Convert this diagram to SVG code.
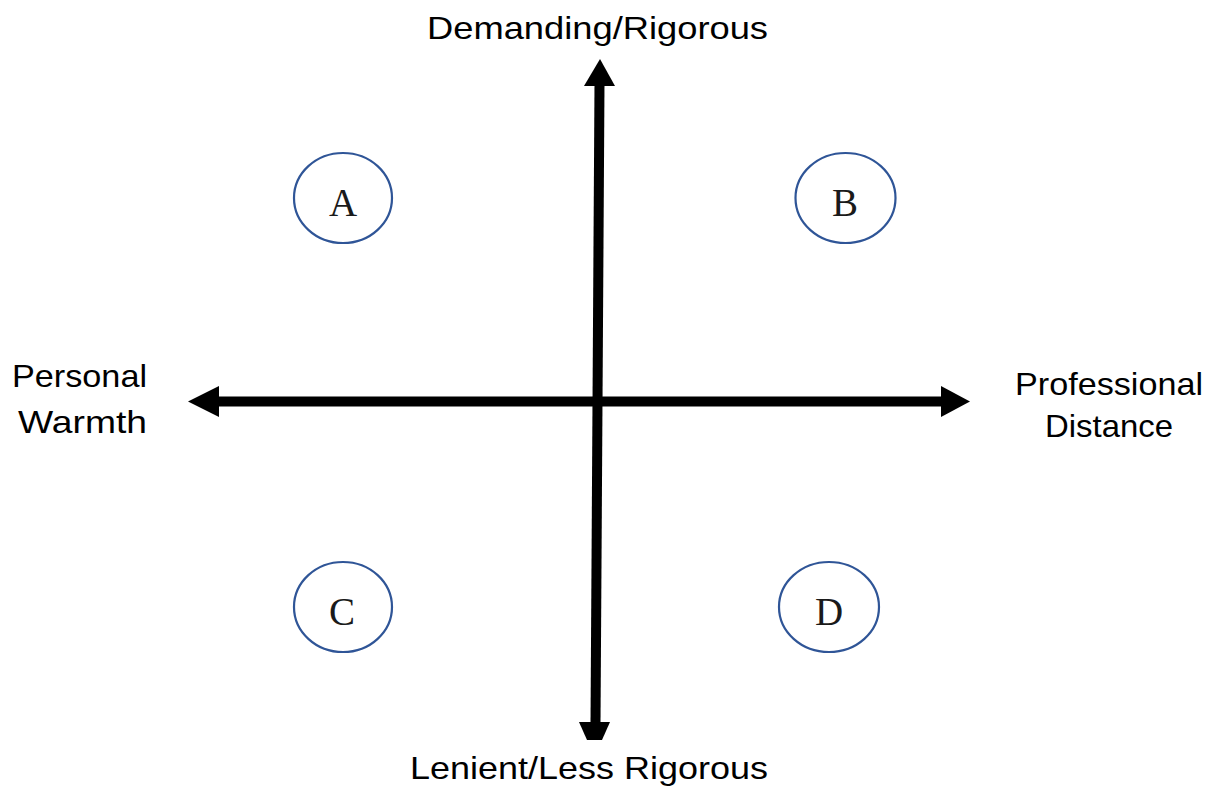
<svg xmlns="http://www.w3.org/2000/svg" width="1217" height="792" viewBox="0 0 1217 792">
  <style>
    .lbl { font-family: "Liberation Sans", Arial, sans-serif; font-size: 32px; fill: #000; }
    .node ellipse { fill: #fff; stroke: #2F5597; stroke-width: 2.2; }
    .node text { font-family: "Liberation Serif", "Times New Roman", serif; font-size: 39px; fill: #1a1a1a; text-anchor: middle; }
    .shaft { stroke: #000; stroke-width: 10; fill: none; }
    .head { fill: #000; }
  </style>
  <rect width="1217" height="792" fill="#fff"/>
  <g id="connectors">
    <line class="shaft" x1="217" y1="401.5" x2="943" y2="401.5"/>
    <polygon class="head" points="188,401.5 219,386 219,417"/>
    <polygon class="head" points="970,401.5 941,386 941,417"/>
    <line class="shaft" x1="599.5" y1="83" x2="595.5" y2="724"/>
    <polygon class="head" points="600,59 584,86 615,86"/>
    <polygon class="head" points="579,722 610,722 602,740 587,740"/>
  </g>
  <g id="labels">
    <text class="lbl" x="427" y="39" textLength="341" lengthAdjust="spacingAndGlyphs">Demanding/Rigorous</text>
    <text class="lbl" x="410" y="779" textLength="358" lengthAdjust="spacingAndGlyphs">Lenient/Less Rigorous</text>
    <text class="lbl" x="12" y="387" textLength="135" lengthAdjust="spacingAndGlyphs">Personal</text>
    <text class="lbl" x="18" y="433" textLength="129" lengthAdjust="spacingAndGlyphs">Warmth</text>
    <text class="lbl" x="1015" y="395" textLength="188" lengthAdjust="spacingAndGlyphs">Professional</text>
    <text class="lbl" x="1045" y="437" textLength="128" lengthAdjust="spacingAndGlyphs">Distance</text>
  </g>
  <g id="node-A" class="node">
    <ellipse cx="343" cy="198" rx="49" ry="45"/>
    <text x="343" y="216">A</text>
  </g>
  <g id="node-B" class="node">
    <ellipse cx="845.5" cy="198" rx="50" ry="45"/>
    <text x="845" y="216">B</text>
  </g>
  <g id="node-C" class="node">
    <ellipse cx="343" cy="607" rx="49" ry="45"/>
    <text x="342" y="625">C</text>
  </g>
  <g id="node-D" class="node">
    <ellipse cx="829" cy="607" rx="50" ry="45"/>
    <text x="829" y="625">D</text>
  </g>
</svg>
